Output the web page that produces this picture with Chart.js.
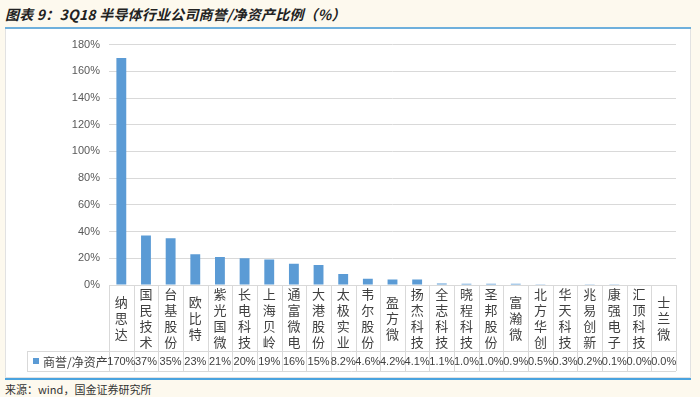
<!DOCTYPE html>
<html>
<head>
<meta charset="utf-8">
<script src="https://cdn.jsdelivr.net/npm/chart.js@4/dist/chart.umd.min.js"></script>
<style>
  html, body { margin: 0; padding: 0; }
  body { width: 700px; height: 397px; background: #fdf9ee; position: relative; overflow: hidden; font-family: "Noto Sans CJK SC", "Noto Sans", sans-serif; }
  #title { position: absolute; left: 5px; top: 4px; font-size: 14px; font-weight: bold; font-style: italic; color: #222; white-space: nowrap; letter-spacing: 0.2px; }
  #topline { position: absolute; left: 5px; top: 27px; width: 686px; height: 2px; background: #6fb0dc; }
  #box { position: absolute; left: 5px; top: 29px; width: 684px; height: 348px; background: #fff; border: 1px solid #e2e2e2; border-top: none; }
  #bottomline { position: absolute; left: 5px; top: 378px; width: 686px; height: 2px; background: #4aa3df; }
  #source { position: absolute; left: 5px; top: 381px; font-size: 11px; color: #333; white-space: nowrap; }
</style>
</head>
<body>
<div id="title">图表 9：3Q18 半导体行业公司商誉/净资产比例（%）</div>
<div id="topline"></div>
<div id="box"><canvas id="chart" width="684" height="348"></canvas></div>
<div id="bottomline"></div>
<div id="source">来源：wind，国金证券研究所</div>
<script>
// companies and goodwill / net assets (%)
const companies = ["纳思达", "国民技术", "台基股份", "欧比特", "紫光国微", "长电科技", "上海贝岭", "通富微电",
    "大港股份", "太极实业", "韦尔股份", "盈方微", "扬杰科技", "全志科技", "晓程科技", "圣邦股份",
    "富瀚微", "北方华创", "华天科技", "兆易创新", "康强电子", "汇顶科技", "士兰微"];
const ratios = [170, 37, 35, 23, 21, 20, 19, 16, 15, 8.2, 4.6, 4.2, 4.1, 1.1, 1.0, 1.0, 0.9, 0.5, 0.3, 0.2, 0.1, 0.0, 0.0];
const seriesName = "商誉/净资产";
const yTicks = [0, 20, 40, 60, 80, 100, 120, 140, 160, 180];

const barColor = "#5b9bd5";
const lineColor = "#d9d9d9";

const fmt = v => (v >= 10 ? v.toFixed(0) : v.toFixed(1)) + "%";

// draws the data table under the bars
const dataTable = {
    id: "dataTable",
    afterDraw(chart) {
        const ctx = chart.ctx;
        const area = chart.chartArea;
        const x = chart.scales.x;
        const n = companies.length;
        const w = (area.right - area.left) / n;
        const top = area.bottom;
        const mid = top + 66;
        const bot = mid + 20;
        const legendLeft = 21;

        ctx.save();
        ctx.strokeStyle = lineColor;
        ctx.lineWidth = 1;
        ctx.beginPath();
        // horizontal lines
        ctx.moveTo(area.left, top + 0.5); ctx.lineTo(area.right, top + 0.5);
        ctx.moveTo(legendLeft, mid + 0.5); ctx.lineTo(area.right, mid + 0.5);
        ctx.moveTo(legendLeft, bot + 0.5); ctx.lineTo(area.right, bot + 0.5);
        // vertical lines
        ctx.moveTo(legendLeft + 0.5, mid); ctx.lineTo(legendLeft + 0.5, bot);
        for (let i = 0; i <= n; i++) {
            const px = Math.round(area.left + i * w) + 0.5;
            ctx.moveTo(px, top); ctx.lineTo(px, bot);
        }
        ctx.stroke();

        // company names, written vertically
        ctx.fillStyle = "#404040";
        ctx.textAlign = "center";
        ctx.textBaseline = "middle";
        ctx.font = "13px 'Noto Sans CJK SC'";
        companies.forEach((name, i) => {
            const cx = x.getPixelForValue(i);
            const chars = name.split("");
            const step = 16;
            const start = (top + mid) / 2 - (chars.length - 1) * step / 2;
            chars.forEach((c, j) => ctx.fillText(c, cx, start + j * step));
        });

        // values
        ctx.font = "11px 'Liberation Sans'";
        ratios.forEach((v, i) => {
            ctx.fillText(fmt(v), x.getPixelForValue(i), (mid + bot) / 2 + 1);
        });

        // legend cell
        ctx.fillStyle = barColor;
        ctx.fillRect(legendLeft + 6, (mid + bot) / 2 - 3, 6, 6);
        ctx.fillStyle = "#404040";
        ctx.textAlign = "left";
        ctx.font = "12px 'Noto Sans CJK SC'";
        ctx.fillText(seriesName, legendLeft + 16, (mid + bot) / 2 + 1);
        ctx.restore();
    }
};

new Chart(document.getElementById("chart"), {
    type: "bar",
    data: {
        labels: companies,
        datasets: [{
            label: seriesName,
            data: ratios,
            backgroundColor: barColor,
            barPercentage: 0.4,
            categoryPercentage: 1.0
        }]
    },
    options: {
        responsive: false,
        animation: false,
        layout: { padding: { top: 8, right: 14, bottom: 92, left: 0 } },
        plugins: {
            legend: { display: false },
            tooltip: { enabled: false },
            title: { display: false }
        },
        scales: {
            x: { display: false },
            y: {
                min: 0,
                max: 180,
                afterFit: scale => { scale.width = 103; },
                afterBuildTicks: scale => { scale.ticks = yTicks.map(v => ({ value: v })); },
                border: { display: false },
                grid: { color: lineColor, drawTicks: false },
                ticks: {
                    padding: 9,
                    color: "#595959",
                    font: { family: "Liberation Sans", size: 11 },
                    callback: v => v + "%"
                }
            }
        }
    },
    plugins: [dataTable]
});
</script>
</body>
</html>
